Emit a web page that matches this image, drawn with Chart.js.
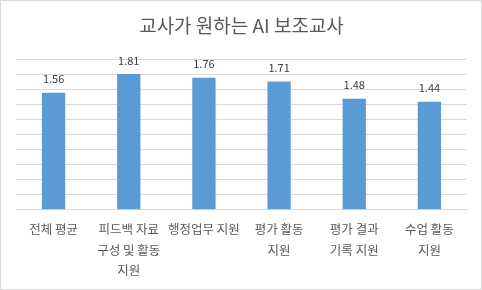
<!DOCTYPE html>
<html>
<head>
<meta charset="utf-8">
<script src="https://cdn.jsdelivr.net/npm/chart.js@4"></script>
<style>
  body { margin: 0; background: #fff; }
  #wrap { width: 482px; height: 290px; box-sizing: border-box; border: 1px solid #d9d9d9; background: #fff; }
  canvas { display: block; }
</style>
</head>
<body>
<div id="wrap"><canvas id="chart" width="480" height="288"></canvas></div>
<script>
// 교사가 원하는 AI 보조교사 - 막대 차트

const categories = [
    '전체 평균',
    ['피드백 자료', '구성 및 활동', '지원'],
    '행정업무 지원',
    ['평가 활동', '지원'],
    ['평가 결과', '기록 지원'],
    ['수업 활동', '지원']
];
const values = [1.56, 1.81, 1.76, 1.71, 1.48, 1.44];
const chartTitle = '교사가 원하는 AI 보조교사';

const FONT = "'Noto Sans CJK KR', 'Noto Sans', sans-serif";

// 막대 위에 값 표시
const valueLabels = {
    id: 'valueLabels',
    afterDatasetsDraw(chart) {
        const ctx = chart.ctx;
        const meta = chart.getDatasetMeta(0);
        ctx.save();
        ctx.font = '11px ' + FONT;
        ctx.fillStyle = '#404040';
        ctx.textAlign = 'center';
        ctx.textBaseline = 'bottom';
        meta.data.forEach((bar, i) => {
            ctx.fillText(values[i].toFixed(2), bar.x, bar.y - 8);
        });
        ctx.restore();
    }
};

new Chart(document.getElementById('chart'), {
    type: 'bar',
    data: {
        labels: categories,
        datasets: [{
            data: values,
            backgroundColor: '#5b9bd5',
            borderWidth: 0,
            categoryPercentage: 1,
            barPercentage: 0.31
        }]
    },
    options: {
        responsive: false,
        animation: false,
        layout: {
            padding: { left: 15, right: 14, top: 0, bottom: -1 }
        },
        plugins: {
            legend: { display: false },
            tooltip: { enabled: false },
            title: {
                display: true,
                text: chartTitle,
                color: '#595959',
                font: { family: FONT, size: 19, weight: 'normal' },
                padding: { top: 13, bottom: 23 }
            }
        },
        scales: {
            y: {
                min: 0,
                max: 2,
                ticks: { display: false, stepSize: 0.2 },
                grid: { color: '#d9d9d9', drawTicks: false },
                border: { display: false }
            },
            x: {
                grid: { display: false, drawTicks: false },
                border: { color: '#d9d9d9' },
                ticks: {
                    color: '#595959',
                    font: { family: FONT, size: 12.5, lineHeight: 1.66 },
                    padding: 9,
                    maxRotation: 0,
                    autoSkip: false
                }
            }
        }
    },
    plugins: [valueLabels]
});
</script>
</body>
</html>
